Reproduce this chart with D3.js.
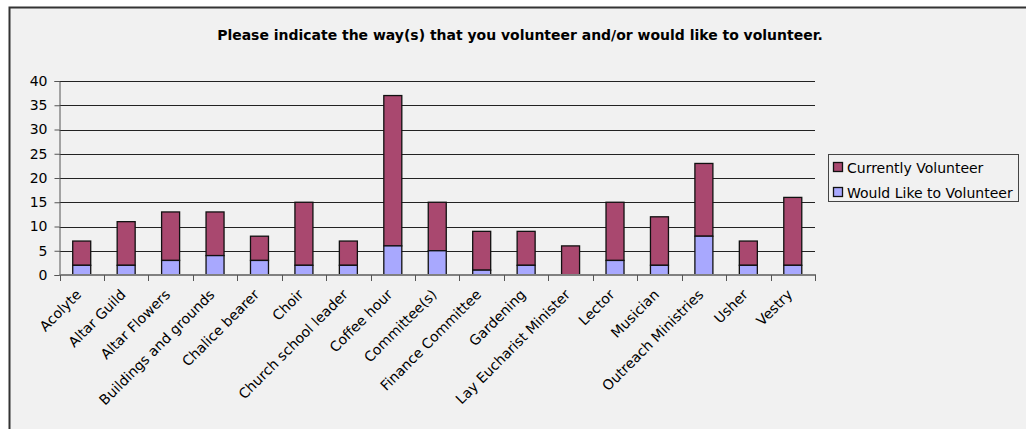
<!DOCTYPE html>
<html>
<head>
<meta charset="utf-8">
<script src="https://cdn.jsdelivr.net/npm/d3@7"></script>
<style>
  html, body { margin: 0; padding: 0; background: #ffffff; }
  svg { display: block; }
  text { font-family: "DejaVu Sans", Verdana, sans-serif; fill: #000; }
</style>
</head>
<body>
<script>
const title = "Please indicate the way(s) that you volunteer and/or would like to volunteer.";
const categories = ["Acolyte", "Altar Guild", "Altar Flowers", "Buildings and grounds", "Chalice bearer", "Choir",
  "Church school leader", "Coffee hour", "Committee(s)", "Finance Committee", "Gardening",
  "Lay Eucharist Minister", "Lector", "Musician", "Outreach Ministries", "Usher", "Vestry"];
const wouldLike = [2, 2, 3, 4, 3, 2, 2, 6, 5, 1, 2, 0, 3, 2, 8, 2, 2];
const currently = [5, 9, 10, 9, 5, 13, 5, 31, 10, 8, 7, 6, 12, 10, 15, 5, 14];
const seriesNames = ["Currently Volunteer", "Would Like to Volunteer"];
const yTicks = [0, 5, 10, 15, 20, 25, 30, 35, 40];

const W = 1026, H = 429;
const colCurrent = "#a9486f", colWould = "#a8a8fe";
const svg = d3.select("body").append("svg").attr("width", W).attr("height", H);

// chart frame
svg.append("rect").attr("x", 9.5).attr("y", 7.5).attr("width", W + 10).attr("height", H + 10)
  .attr("fill", "#f1f1f1").attr("stroke", "#333").attr("stroke-width", 2);

const plotL = 59.5, plotR = 815, plotT = 81, plotB = 275;
const x = d3.scaleBand().domain(categories).range([plotL, plotR]).padding(0);
const y = d3.scaleLinear().domain([0, 40]).range([plotB, plotT]);

// title, fitted to reference width
const t = svg.append("text").attr("x", 520).attr("y", 40).attr("text-anchor", "middle")
  .attr("font-weight", "bold").attr("font-size", 100).text(title);
const tl = t.node().getComputedTextLength();
t.attr("font-size", 100 * 606 / tl);

// gridlines
svg.append("g").selectAll("line").data(yTicks.filter(d => d > 0)).join("line")
  .attr("x1", plotL).attr("x2", plotR)
  .attr("y1", d => Math.round(y(d)) + 0.5).attr("y2", d => Math.round(y(d)) + 0.5)
  .attr("stroke", "#222").attr("stroke-width", 1);

// y axis
const yAxis = d3.axisLeft(y).tickValues(yTicks).tickSize(5).tickPadding(7);
const gy = svg.append("g").attr("transform", `translate(${plotL},0)`).call(yAxis);
gy.select(".domain").attr("stroke", "#555");
gy.selectAll(".tick line").attr("stroke", "#555");
gy.selectAll(".tick text").attr("font-size", 14).attr("font-family", "DejaVu Sans").attr("fill", "#000");

// bars
const bw = x.bandwidth();
const barW = bw * 0.405;
const g = svg.append("g");
categories.forEach((c, i) => {
  const bx = x(c) + (bw - barW) / 2;
  const w0 = wouldLike[i], c0 = currently[i];
  if (c0 > 0) {
    g.append("rect").attr("x", bx).attr("y", y(w0 + c0)).attr("width", barW)
      .attr("height", y(w0) - y(w0 + c0)).attr("fill", colCurrent).attr("stroke", "#111").attr("stroke-width", 1.3);
  }
  if (w0 > 0) {
    g.append("rect").attr("x", bx).attr("y", y(w0)).attr("width", barW)
      .attr("height", y(0) - y(w0)).attr("fill", colWould).attr("stroke", "#111").attr("stroke-width", 1.3);
  }
});

// x axis
const bounds = categories.map(c => x(c)).concat([plotR]);
const gx = svg.append("g");
gx.append("line").attr("x1", plotL).attr("x2", plotR + 1).attr("y1", plotB).attr("y2", plotB)
  .attr("stroke", "#808080").attr("stroke-width", 2);
gx.selectAll("line.tk").data(bounds).join("line").attr("class", "tk")
  .attr("x1", d => Math.round(d) + 0.5).attr("x2", d => Math.round(d) + 0.5)
  .attr("y1", plotB).attr("y2", plotB + 6).attr("stroke", "#555").attr("stroke-width", 1);
gx.selectAll("text").data(categories).join("text")
  .attr("transform", d => `translate(${x(d) + bw / 2 - 3},${plotB + 17}) rotate(-45)`)
  .attr("text-anchor", "end").attr("dy", "0.35em").attr("font-size", 14).text(d => d);

// legend
const lg = svg.append("g");
lg.append("rect").attr("x", 828.5).attr("y", 154.5).attr("width", 190).attr("height", 47)
  .attr("fill", "#f1f1f1").attr("stroke", "#444").attr("stroke-width", 1);
const legCols = [colCurrent, colWould];
seriesNames.forEach((s, i) => {
  const yy = 162 + i * 25;
  lg.append("rect").attr("x", 833.5).attr("y", yy + 0.5).attr("width", 9).attr("height", 9)
    .attr("fill", legCols[i]).attr("stroke", "#111").attr("stroke-width", 1.3);
  lg.append("text").attr("x", 847).attr("y", yy + 10.5).attr("font-size", 14).text(s);
});
</script>
</body>
</html>
